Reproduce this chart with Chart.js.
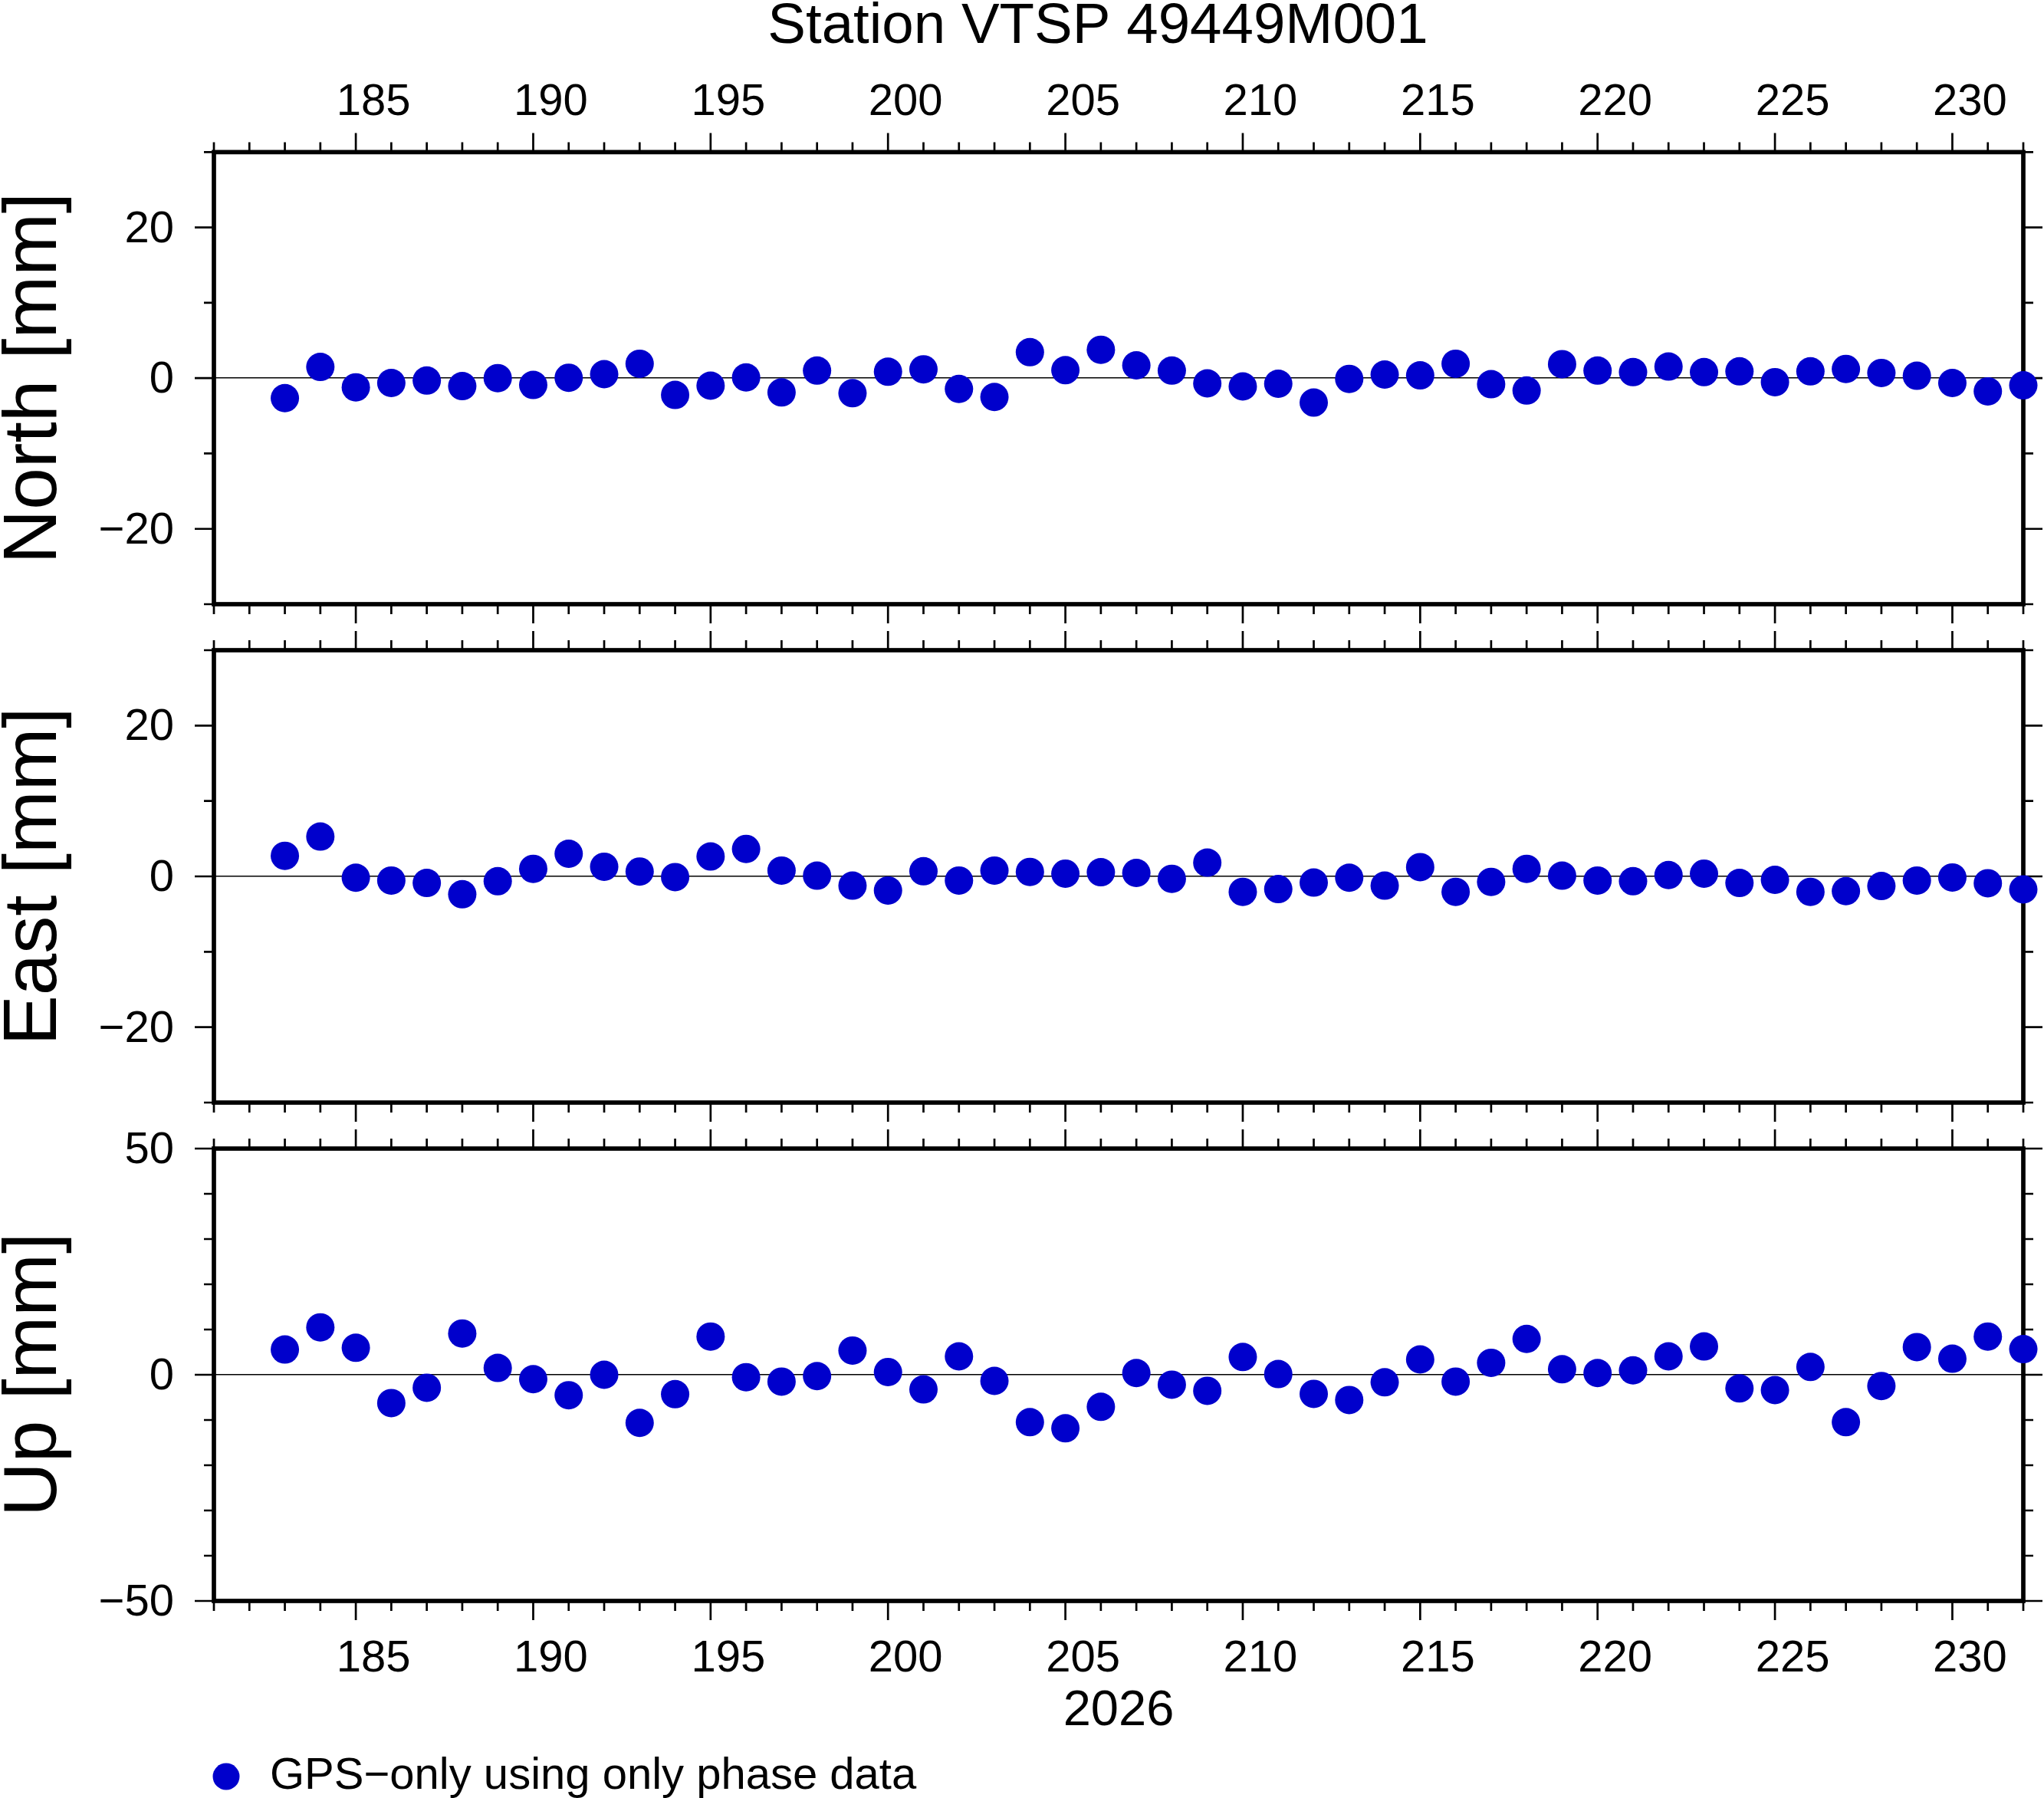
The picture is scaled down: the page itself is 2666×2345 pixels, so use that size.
<!DOCTYPE html>
<html>
<head>
<meta charset="utf-8">
<title>Station VTSP 49449M001</title>
<script src="https://cdn.jsdelivr.net/npm/chart.js@4/dist/chart.umd.min.js"></script>
<style>
  html, body { margin: 0; padding: 0; background: #fff; overflow: hidden; }
  canvas { position: absolute; left: 0; top: 0; }
</style>
</head>
<body>
<canvas id="northChart" width="2864" height="2345"></canvas>
<canvas id="eastChart" width="2699" height="2345"></canvas>
<canvas id="upChart" width="2699" height="2345"></canvas>
<script>
// day of year (2026)
const days = [183, 184, 185, 186, 187, 188, 189, 190, 191, 192, 193, 194, 195, 196, 197, 198, 199,
    200, 201, 202, 203, 204, 205, 206, 207, 208, 209, 210, 211, 212, 213, 214, 215, 216,
    217, 218, 219, 220, 221, 222, 223, 224, 225, 226, 227, 228, 229, 230, 231, 232];

// displacements in mm
const north = [-2.65, 1.49, -1.22, -0.64, -0.32, -1.06, 0.0, -0.9, 0.05, 0.53, 1.91, -2.23, -1.0,
    0.1, -1.9, 1.0, -2.0, 0.85, 1.17, -1.43, -2.5, 3.45, 1.06, 3.77, 1.7, 1.0, -0.69, -1.1,
    -0.74, -3.24, -0.1, 0.48, 0.37, 1.91, -0.8, -1.64, 1.86, 1.0, 0.8, 1.54, 0.8, 0.9, -0.53,
    0.9, 1.22, 0.69, 0.32, -0.64, -1.75, -0.95];
const east = [2.73, 5.28, -0.18, -0.55, -0.87, -2.37, -0.64, 1.0, 3.0, 1.28, 0.64, -0.09, 2.64,
    3.64, 0.77, 0.09, -1.23, -1.87, 0.68, -0.55, 0.77, 0.59, 0.36, 0.55, 0.46, -0.32, 1.82,
    -2.05, -1.69, -0.82, -0.18, -1.23, 1.23, -2.05, -0.73, 1.0, 0.09, -0.55, -0.64, 0.18, 0.36,
    -0.87, -0.46, -2.05, -1.96, -1.28, -0.55, -0.14, -0.91, -1.73];
const up = [5.58, 10.48, 5.96, -6.26, -2.87, 9.13, 1.51, -0.98, -4.52, 0.0, -10.63, -4.3, 8.45,
    -0.53, -1.51, -0.3, 5.35, 0.6, -3.24, 4.07, -1.36, -10.48, -11.84, -7.09, 0.38, -2.19,
    -3.54, 3.92, 0.15, -4.22, -5.58, -1.66, 3.39, -1.51, 2.64, 7.92, 1.21, 0.38, 0.98, 4.07,
    6.26, -3.02, -3.39, 1.73, -10.48, -2.49, 6.11, 3.54, 8.45, 5.66];

// labelled ticks
const dayLabels = [185, 190, 195, 200, 205, 210, 215, 220, 225, 230];
const northLabels = [-20, 0, 20];
const eastLabels = [-20, 0, 20];
const upLabels = [-50, 0, 50];

const BLUE = 'rgb(0, 0, 204)';
const SERIES = 'GPS\u2212only using only phase data';

Chart.defaults.font.family = "'Liberation Sans', Arial, Helvetica, sans-serif";
Chart.defaults.color = '#000';

// minus sign like the original
function fmtNum(v) {
    return v < 0 ? '\u2212' + Math.abs(v) : String(v);
}

// frame box and outward tick marks on all four sides
const frameTicks = {
    id: 'frameTicks',
    beforeDatasetsDraw(chart, args, opts) {
        const { ctx, chartArea: a, scales: { x, y } } = chart;
        ctx.save();
        ctx.strokeStyle = '#000';
        ctx.lineWidth = 2.7;
        ctx.beginPath();
        x.ticks.forEach(t => {
            const px = x.getPixelForValue(t.value);
            const len = t.value % 5 === 0 ? 25 : 13;
            ctx.moveTo(px, a.top);
            ctx.lineTo(px, a.top - len);
            ctx.moveTo(px, a.bottom);
            ctx.lineTo(px, a.bottom + len);
        });
        y.ticks.forEach(t => {
            const py = y.getPixelForValue(t.value);
            const len = opts.major.includes(t.value) ? 25 : 13;
            ctx.moveTo(a.left, py);
            ctx.lineTo(a.left - len, py);
            ctx.moveTo(a.right, py);
            ctx.lineTo(a.right + len, py);
        });
        ctx.stroke();
        ctx.lineWidth = 5.7;
        ctx.strokeRect(a.left, a.top, a.right - a.left, a.bottom - a.top);
        ctx.restore();
    }
};

// single legend entry under the last panel
const legendLine = {
    id: 'legendLine',
    afterDraw(chart, args, opts) {
        const ds = chart.data.datasets[0];
        const ctx = chart.ctx;
        ctx.save();
        ctx.fillStyle = ds.pointBackgroundColor;
        ctx.beginPath();
        ctx.arc(opts.x, opts.y, opts.r, 0, Math.PI * 2);
        ctx.fill();
        ctx.fillStyle = '#000';
        ctx.font = opts.size + "px 'Liberation Sans', Arial, sans-serif";
        ctx.textBaseline = 'middle';
        ctx.textAlign = 'left';
        ctx.fillText(ds.label, opts.x + opts.gap, opts.y);
        ctx.restore();
    }
};

function drawPanel(id, values, cfg) {
    const plugins = [frameTicks];
    if (cfg.legend) plugins.push(legendLine);

    const scales = {
        x: {
            type: 'linear',
            position: cfg.xPos,
            min: 181,
            max: 232,
            grid: { display: false, drawTicks: false },
            border: { display: false },
            ticks: {
                stepSize: 1,
                autoSkip: false,
                maxRotation: 0,
                minRotation: 0,
                labelOffset: 23,
                padding: cfg.xPad,
                font: { size: 58, lineHeight: 1 },
                callback: v => (cfg.xShow && dayLabels.includes(v)) ? String(v) : ''
            },
            title: cfg.xTitle || { display: false },
            afterFit: s => { s.height = cfg.xHeight; }
        },
        y: {
            min: cfg.yMin,
            max: cfg.yMax,
            grid: {
                drawTicks: false,
                lineWidth: 1.4,
                color: c => (c.tick && c.tick.value === 0) ? '#000' : 'rgba(0,0,0,0)'
            },
            border: { display: false },
            ticks: {
                stepSize: 10,
                autoSkip: false,
                padding: 52,
                labelOffset: 3,
                font: { size: 58, lineHeight: 1 },
                callback: v => cfg.yLabels.includes(v) ? fmtNum(v) : ''
            },
            title: {
                display: true,
                text: cfg.yTitle,
                font: { size: 98, lineHeight: 1 },
                padding: { top: -3, bottom: 0 }
            },
            afterFit: s => { s.width = 279; }
        }
    };

    // empty box on the right, only so the title centres like the original
    if (cfg.rightSpace) {
        scales.yRight = {
            position: 'right',
            grid: { display: false, drawTicks: false },
            border: { display: false },
            ticks: { display: false },
            afterFit: s => { s.width = cfg.rightSpace; }
        };
    }

    return new Chart(document.getElementById(id), {
        type: 'scatter',
        data: {
            datasets: [{
                label: SERIES,
                data: days.map((d, i) => ({ x: d, y: values[i] })),
                pointRadius: 18.5,
                pointHoverRadius: 18.5,
                pointBackgroundColor: BLUE,
                pointBorderWidth: 0,
                showLine: false,
                clip: false
            }]
        },
        options: {
            responsive: false,
            animation: false,
            devicePixelRatio: 1,
            events: [],
            layout: { padding: cfg.padding },
            plugins: {
                legend: { display: false },
                tooltip: { enabled: false },
                title: cfg.title || { display: false },
                frameTicks: { major: cfg.yLabels },
                legendLine: cfg.legend || {}
            },
            scales: scales
        },
        plugins: plugins
    });
}

// North
drawPanel('northChart', north, {
    padding: { top: 0, left: 0, right: 0, bottom: 1557 },
    rightSpace: 225,
    title: {
        display: true,
        text: 'Station VTSP 49449M001',
        font: { size: 74.5, weight: 'normal', lineHeight: 0.8 },
        padding: { top: 6, bottom: 0 }
    },
    xPos: 'top', xShow: true, xPad: 35.5, xHeight: 132.8,
    yMin: -30, yMax: 30, yLabels: northLabels, yTitle: 'North [mm]'
});

// East
drawPanel('eastChart', east, {
    padding: { top: 848, left: 0, right: 60, bottom: 907 },
    xPos: 'bottom', xShow: false, xPad: 0, xHeight: 0,
    yMin: -30, yMax: 30, yLabels: eastLabels, yTitle: 'East [mm]'
});

// Up
drawPanel('upChart', up, {
    padding: { top: 1498, left: 0, right: 60, bottom: 77 },
    xPos: 'bottom', xShow: true, xPad: 46.5, xHeight: 180,
    xTitle: {
        display: true,
        text: '2026',
        font: { size: 65, lineHeight: 1 },
        padding: { top: 0, bottom: 3.5 }
    },
    yMin: -50, yMax: 50, yLabels: upLabels, yTitle: 'Up [mm]',
    legend: { x: 295, y: 2317, r: 17.5, gap: 57, size: 58 }
});
</script>
</body>
</html>
